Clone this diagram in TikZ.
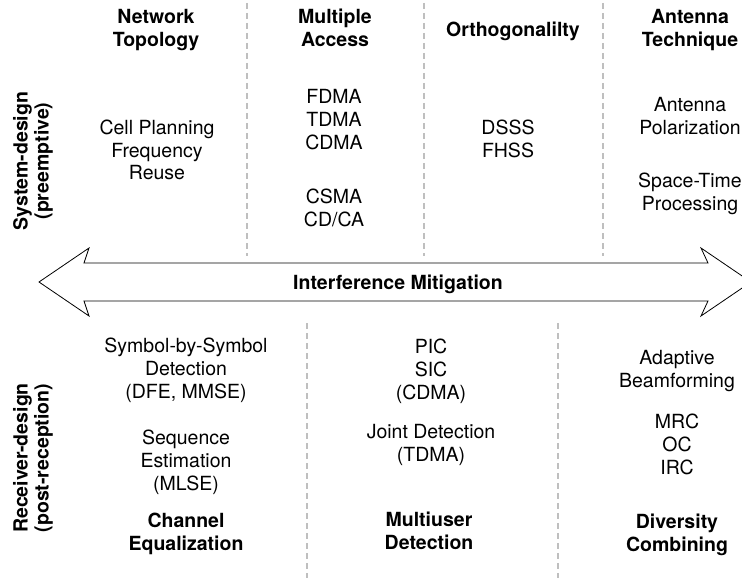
\documentclass[tikz,border=0pt]{standalone}
\usepackage{fontspec}
\setmainfont{TeX Gyre Heros}
% centred rows whose baseline is the first row
\newcommand\stackrows[1]{\begin{tabular}[t]{@{}c@{}}#1\end{tabular}}
\begin{document}
\begin{tikzpicture}[x=1pt,y=-1pt,
  txt/.style={inner sep=0pt, anchor=base, font=\fontsize{19.5}{23}\selectfont},
  head/.style={txt, font=\fontsize{19.5}{23}\selectfont\bfseries},
  side/.style={inner sep=0pt, rotate=90, font=\fontsize{19.5}{21}\selectfont\bfseries},
  sep/.style={draw=black!25, line width=2.5pt, dash pattern=on 6pt off 4pt},
  band/.style={draw=black, line width=0.8pt, fill=white, line join=miter}]
\useasboundingbox (0,0) rectangle (742,578);

% dashed column separators
\draw[sep] (247,3) -- (247,256);
\draw[sep] (424,3) -- (424,256);
\draw[sep] (603,3) -- (603,256);
\draw[sep] (307,323) -- (307,578);
\draw[sep] (558,323) -- (558,578);

% double-headed band
\draw[band] (39,282) -- (89,248) -- (84,263) -- (708,263) -- (701,248)
  -- (751,282) -- (701,316) -- (708,301) -- (84,301) -- (89,316) -- cycle;
\node[head] (im) at (398,289) {Interference Mitigation};

% row labels
\node[side] (sys) at (34,161) {\stackrows{System-design\\(preemptive)}};
\node[side] (rcv) at (34,458) {\stackrows{Receiver-design\\(post-reception)}};

% system-design columns
\node[head] (topo) at (156,24) {\stackrows{Network\\Topology}};
\node[txt] (topob) at (157,134) {\stackrows{Cell Planning\\Frequency\\Reuse}};

\node[head] (ma) at (335,24) {\stackrows{Multiple\\Access}};
\node[txt] (ma1) at (334,103) {\stackrows{FDMA\\TDMA\\CDMA}};
\node[txt] (ma2) at (334,203) {\stackrows{CSMA\\CD/CA}};

\node[head] (orth) at (513,37) {Orthogonalilty};
\node[txt] (orthb) at (508,135) {\stackrows{DSSS\\FHSS}};

\node[head] (ant) at (690,24) {\stackrows{Antenna\\Technique}};
\node[txt] (ant1) at (690,111) {\stackrows{Antenna\\Polarization}};
\node[txt] (ant2) at (690,187) {\stackrows{Space-Time\\Processing}};

% receiver-design columns
\node[txt] (eq1) at (186,352) {\stackrows{Symbol-by-Symbol\\Detection\\(DFE, MMSE)}};
\node[txt] (eq2) at (186,444) {\stackrows{Sequence\\Estimation\\(MLSE)}};
\node[head] (eq) at (186,527) {\stackrows{Channel\\Equalization}};

\node[txt] (mu1) at (431,353) {\stackrows{PIC\\SIC\\(CDMA)}};
\node[txt] (mu2) at (431,438) {\stackrows{Joint Detection\\(TDMA)}};
\node[head] (mu) at (429,526) {\stackrows{Multiuser\\Detection}};

\node[txt] (dc1) at (677,364) {\stackrows{Adaptive\\Beamforming}};
\node[txt] (dc2) at (677,428) {\stackrows{MRC\\OC\\IRC}};
\node[head] (dc) at (677,528) {\stackrows{Diversity\\Combining}};
\end{tikzpicture}
\end{document}
